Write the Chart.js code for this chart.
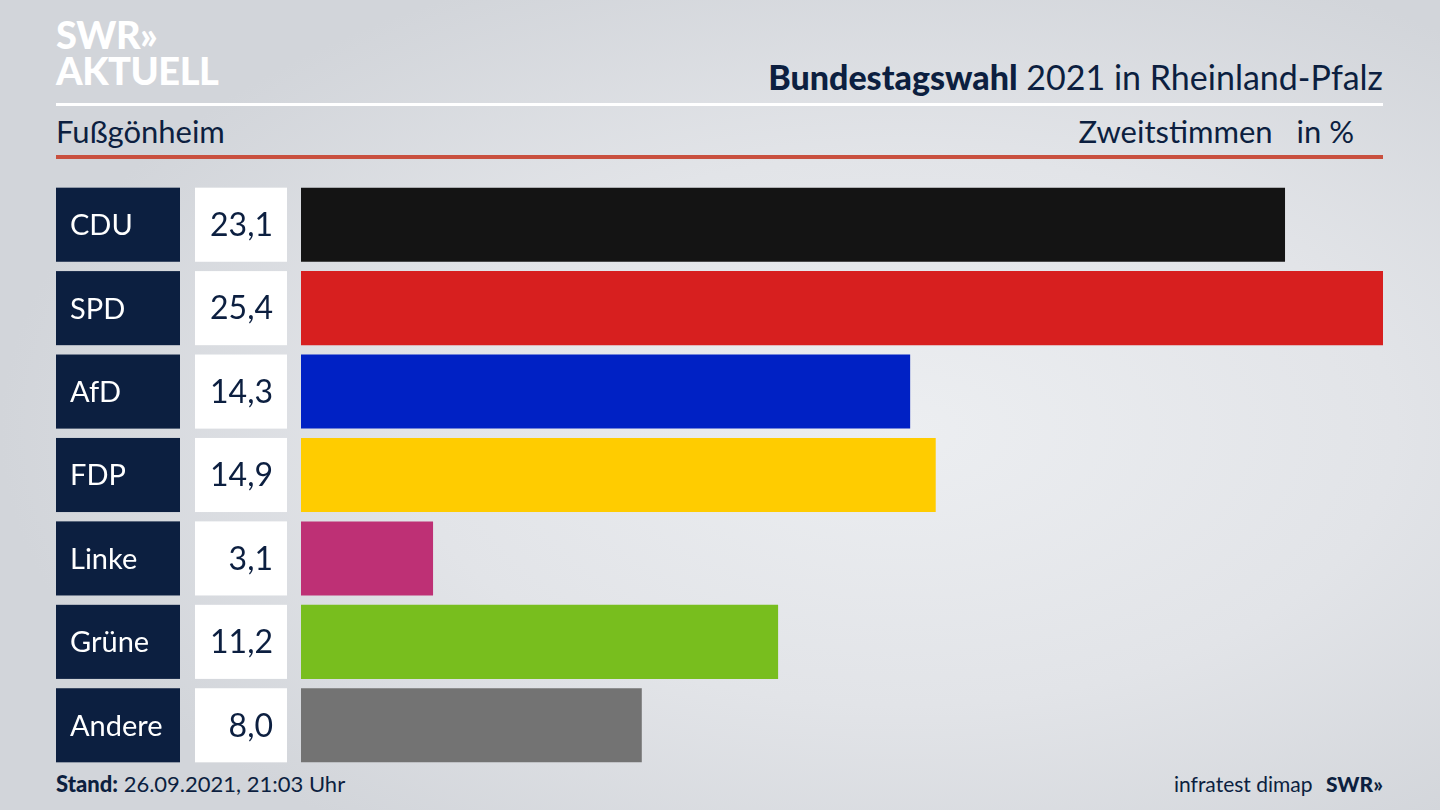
<!DOCTYPE html>
<html>
<head>
<meta charset="utf-8">
<script src="https://cdn.jsdelivr.net/npm/chart.js@4"></script>
<style>
  html, body { margin: 0; padding: 0; }
  body {
    width: 1440px; height: 810px; overflow: hidden; position: relative;
    font-family: "Lato", "Open Sans", sans-serif; color: #0c1f40;
    background: radial-gradient(ellipse 900px 500px at 900px 430px, #eceef1 0%, #e2e4e8 55%, #d2d5da 100%);
  }
  .abs { position: absolute; white-space: nowrap; }
  #logo { left: 56px; top: 16px; color: #fff; font-weight: 900; font-size: 38px; line-height: 36px; letter-spacing: -0.5px; }
  #title { right: 57px; top: 56px; font-size: 34px; }
  #title b { font-weight: 900; }
  #line1 { left: 56px; top: 103px; width: 1327px; height: 3px; background: #fff; }
  #place { left: 56px; top: 112px; font-size: 31px; }
  #unit { right: 86px; top: 112px; font-size: 31px; }
  #line2 { left: 56px; top: 155px; width: 1327px; height: 4px; background: #c9503f; }
  #stand { left: 56px; top: 770px; font-size: 22px; }
  #stand b { font-weight: 900; }
  #src { right: 57px; top: 771px; font-size: 21px; }
  #src b { font-weight: 900; margin-left: 8px; }
  canvas { position: absolute; left: 0; top: 0; }
</style>
</head>
<body>
<div class="abs" id="logo">SWR»<br>AKTUELL</div>
<div class="abs" id="title"><b>Bundestagswahl</b> 2021 in Rheinland-Pfalz</div>
<div class="abs" id="line1"></div>
<div class="abs" id="place">Fußgönheim</div>
<div class="abs" id="unit">Zweitstimmen &nbsp;&nbsp;in %</div>
<div class="abs" id="line2"></div>
<div class="abs" id="stand"><b>Stand:</b> 26.09.2021, 21:03 Uhr</div>
<div class="abs" id="src">infratest dimap <b>SWR»</b></div>
<div style="position:absolute;left:0;top:0;width:1440px;height:810px;">
  <canvas id="chart"></canvas>
</div>
<script>
// Parteien und Zweitstimmen in %
var parties = ["CDU", "SPD", "AfD", "FDP", "Linke", "Grüne", "Andere"];
var votes   = [23.1, 25.4, 14.3, 14.9, 3.1, 11.2, 8.0];
var colors  = ["#141414", "#d71f1f", "#0021c4", "#ffcc00", "#be3075", "#78be1e", "#737373"];

// Beschriftungskästen links neben den Balken
var labelBoxes = {
  id: "labelBoxes",
  afterDatasetsDraw: function(chart) {
    var ctx = chart.ctx;
    var meta = chart.getDatasetMeta(0);
    ctx.save();
    meta.data.forEach(function(bar, i) {
      var h = bar.height;
      var top = bar.y - h / 2;
      ctx.fillStyle = "#0c1f40";
      ctx.fillRect(56, top, 124, h);
      ctx.fillStyle = "#ffffff";
      ctx.fillRect(195, top, 92, h);
      ctx.font = "29px Lato, 'Open Sans', sans-serif";
      ctx.textBaseline = "middle";
      ctx.textAlign = "left";
      ctx.fillStyle = "#ffffff";
      ctx.fillText(parties[i], 70, bar.y + 1);
      ctx.textAlign = "right";
      ctx.fillStyle = "#0c1f40";
      ctx.font = "32px Lato, 'Open Sans', sans-serif";
      ctx.fillText(votes[i].toFixed(1).replace(".", ","), 273, bar.y + 1);
    });
    ctx.restore();
  }
};

var ctx = document.getElementById("chart").getContext("2d");
var chart = new Chart(ctx, {
  type: "bar",
  data: {
    labels: parties,
    datasets: [{
      data: votes,
      backgroundColor: colors,
      borderWidth: 0,
      categoryPercentage: 1.0,
      barPercentage: 0.888
    }]
  },
  options: {
    indexAxis: "y",
    responsive: true,
    maintainAspectRatio: false,
    animation: false,
    layout: { padding: { left: 301, right: 57, top: 183, bottom: 43 } },
    plugins: { legend: { display: false }, tooltip: { enabled: false } },
    scales: {
      x: { display: false, min: 0, max: 25.4 },
      y: { display: false }
    }
  },
  plugins: [labelBoxes]
});
</script>
</body>
</html>
